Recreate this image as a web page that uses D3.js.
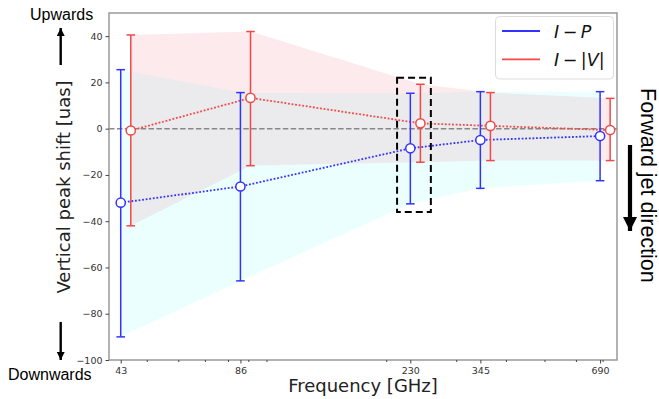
<!DOCTYPE html>
<html>
<head>
<meta charset="utf-8">
<script src="https://cdn.jsdelivr.net/npm/d3@7"></script>
<style>
  body { margin: 0; background: #fff; }
  svg { display: block; }
</style>
</head>
<body>
<div id="chart"></div>
<script>
(function(){
  // frequencies in GHz
  const freqs = [43, 86, 230, 345, 690];
  const tickFreqs = [43, 86, 230, 345, 690];
  const minorFreqs = [50, 60, 70, 80, 90, 100, 200, 300, 400, 500, 600, 700];
  const yTicks = [-100, -80, -60, -40, -20, 0, 20, 40];

  // I - P (blue)
  const ipShift = [-32, -25, -8.5, -4.9, -3.2];
  const ipUpper = [25.5, 15.6, 15.3, 16, 16];
  const ipLower = [-90, -65.8, -32.5, -25.8, -22.5];

  // I - |V| (red), drawn slightly to the right
  const ivShift = [-0.8, 13.3, 2.3, 1.2, -0.6];
  const ivUpper = [40.5, 42, 19.2, 15.6, 13.1];
  const ivLower = [-42, -16, -14.5, -13.8, -13.8];
  const ivOffset = 1.06;

  // dashed box around the 230 GHz points
  const boxFreq = [213, 259];
  const boxShift = [-36, 22];

  const blue = 'rgb(51,51,255)';
  const red = 'rgb(242,72,72)';

  const W = 659, H = 399;
  const m = { left: 109, right: 617, top: 13, bottom: 360 };

  const svg = d3.select('#chart').append('svg')
    .attr('width', W).attr('height', H);

  const x = d3.scaleLog().domain([40.18, 761]).range([m.left, m.right]);
  const y = d3.scaleLinear().domain([-100, 50]).range([m.bottom, m.top]);

  const ip = freqs.map((f, i) => ({ f: f, v: ipShift[i], hi: ipUpper[i], lo: ipLower[i] }));
  const iv = freqs.map((f, i) => ({ f: f * ivOffset, v: ivShift[i], hi: ivUpper[i], lo: ivLower[i] }));

  const plot = svg.append('g');

  // shaded bands
  const band = d3.area()
    .x(d => x(d.f))
    .y0(d => y(d.lo))
    .y1(d => y(d.hi));
  plot.append('path').datum(ip).attr('d', band)
    .attr('fill', 'cyan').attr('fill-opacity', 0.08);
  plot.append('path').datum(iv).attr('d', band)
    .attr('fill', '#f03c50').attr('fill-opacity', 0.11);

  // zero line
  plot.append('line')
    .attr('x1', m.left).attr('x2', m.right)
    .attr('y1', y(0)).attr('y2', y(0))
    .attr('stroke', '#888').attr('stroke-width', 1.5)
    .attr('stroke-dasharray', '5.5,2.4');

  // dotted connecting lines
  const line = d3.line().x(d => x(d.f)).y(d => y(d.v));
  [[ip, blue], [iv, red]].forEach(([data, col]) => {
    plot.append('path').datum(data).attr('d', line)
      .attr('fill', 'none').attr('stroke', col)
      .attr('stroke-width', 1.8).attr('stroke-dasharray', '1.8,1.8');
  });

  // error bars + markers
  const cap = 4.3;
  [[ip, blue], [iv, red]].forEach(([data, col]) => {
    const g = plot.append('g').selectAll('g').data(data).enter().append('g');
    g.append('line')
      .attr('x1', d => x(d.f)).attr('x2', d => x(d.f))
      .attr('y1', d => y(d.hi)).attr('y2', d => y(d.lo))
      .attr('stroke', col).attr('stroke-width', 1.5);
    ['hi', 'lo'].forEach(k => {
      g.append('line')
        .attr('x1', d => x(d.f) - cap).attr('x2', d => x(d.f) + cap)
        .attr('y1', d => y(d[k])).attr('y2', d => y(d[k]))
        .attr('stroke', col).attr('stroke-width', 1.5);
    });
    g.append('circle')
      .attr('cx', d => x(d.f)).attr('cy', d => y(d.v))
      .attr('r', 4.6)
      .attr('fill', '#fff').attr('stroke', col).attr('stroke-width', 1.5);
  });

  // highlight box
  plot.append('rect')
    .attr('x', x(boxFreq[0])).attr('y', y(boxShift[1]))
    .attr('width', x(boxFreq[1]) - x(boxFreq[0]))
    .attr('height', y(boxShift[0]) - y(boxShift[1]))
    .attr('fill', 'none').attr('stroke', '#000').attr('stroke-width', 2)
    .attr('stroke-dasharray', '7,4');

  // spines
  svg.append('rect')
    .attr('x', m.left).attr('y', m.top)
    .attr('width', m.right - m.left).attr('height', m.bottom - m.top)
    .attr('fill', 'none').attr('stroke', '#999').attr('stroke-width', 1.5);

  // axes
  const tickFont = '9.5px "DejaVu Sans", sans-serif';
  const yAxis = svg.append('g')
    .attr('transform', 'translate(' + m.left + ',0)')
    .call(d3.axisLeft(y).tickValues(yTicks).tickSize(3.5).tickPadding(3)
      .tickFormat(d => d < 0 ? '\u2212' + Math.abs(d) : d));
  const xAxis = svg.append('g')
    .attr('transform', 'translate(0,' + m.bottom + ')')
    .call(d3.axisBottom(x).tickValues(tickFreqs).tickSize(3.5).tickPadding(4)
      .tickFormat(d3.format('d')));
  svg.append('g')
    .attr('transform', 'translate(0,' + m.bottom + ')')
    .call(d3.axisBottom(x).tickValues(minorFreqs).tickSize(2).tickFormat(''))
    .call(g => g.select('.domain').remove())
    .selectAll('line').attr('stroke', '#444');
  [yAxis, xAxis].forEach(a => {
    a.select('.domain').remove();
    a.selectAll('line').attr('stroke', '#444').attr('stroke-width', 1);
    a.selectAll('text').style('font', tickFont).attr('fill', '#333');
  });

  // axis labels
  svg.append('text')
    .attr('transform', 'translate(70,187) rotate(-90)')
    .attr('text-anchor', 'middle')
    .style('font', '18px "DejaVu Sans", sans-serif')
    .attr('fill', '#222')
    .text('Vertical peak shift [uas]');
  svg.append('text')
    .attr('x', (m.left + m.right) / 2).attr('y', 392)
    .attr('text-anchor', 'middle')
    .style('font', '18px "DejaVu Sans", sans-serif')
    .attr('fill', '#222')
    .text('Frequency [GHz]');

  // legend
  const leg = svg.append('g');
  leg.append('rect')
    .attr('x', 495.5).attr('y', 16.5).attr('width', 118).attr('height', 62.5)
    .attr('rx', 4).attr('fill', '#fff').attr('fill-opacity', 0.85)
    .attr('stroke', '#ddd').attr('stroke-width', 1);
  const legItems = [
    { col: blue, parts: ['I', '\u2009\u2212\u2009', 'P'] },
    { col: red, parts: ['I', '\u2009\u2212\u2009|', 'V', '|'] }
  ];
  legItems.forEach((it, i) => {
    const cy = 31 + i * 28.3;
    leg.append('line')
      .attr('x1', 502).attr('x2', 540).attr('y1', cy).attr('y2', cy)
      .attr('stroke', it.col).attr('stroke-width', 1.8);
    const t = leg.append('text')
      .attr('x', 554).attr('y', cy + 6.5)
      .style('font', '17.5px "DejaVu Sans", sans-serif')
      .attr('fill', '#111');
    it.parts.forEach(p => {
      t.append('tspan')
        .style('font-style', /[A-Z]/.test(p) ? 'italic' : 'normal')
        .text(p);
    });
  });

  // arrows + annotations
  svg.append('defs').append('marker')
    .attr('id', 'head').attr('viewBox', '0 0 10 10')
    .attr('refX', 10).attr('refY', 5)
    .attr('markerWidth', 3.4).attr('markerHeight', 3.4)
    .attr('markerUnits', 'strokeWidth')
    .attr('orient', 'auto')
    .append('path').attr('d', 'M0,0L10,5L0,10Z').attr('fill', '#000');

  const arrow = (x1, y1, x2, y2, w) => svg.append('line')
    .attr('x1', x1).attr('y1', y1).attr('x2', x2).attr('y2', y2)
    .attr('stroke', '#000').attr('stroke-width', w)
    .attr('marker-end', 'url(#head)');

  arrow(60.7, 65, 60.7, 28, 2.4);
  arrow(60.7, 322, 60.7, 360, 2.4);
  arrow(630, 145, 630, 231, 4.2);

  const annFont = '16px "Liberation Sans", Arial, sans-serif';
  svg.append('text').attr('x', 30).attr('y', 19.5)
    .style('font', annFont).text('Upwards');
  svg.append('text').attr('x', 8).attr('y', 380)
    .style('font', annFont).text('Downwards');
  svg.append('text')
    .attr('transform', 'translate(641,88) rotate(90)')
    .style('font', '21.5px "Liberation Sans", Arial, sans-serif')
    .text('Forward jet direction');
})();
</script>
</body>
</html>
